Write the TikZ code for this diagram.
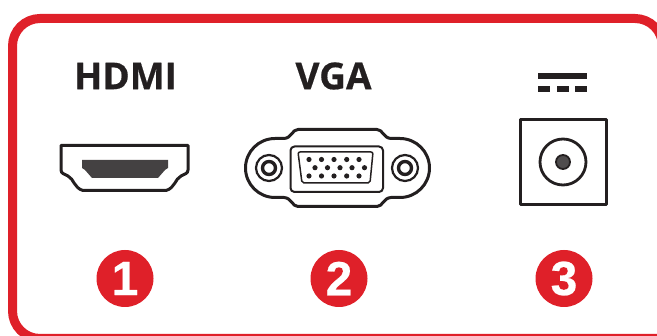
\documentclass[tikz,border=0pt]{standalone}
\usepackage{fontspec}
\setmainfont{Open Sans}[BoldFeatures={FakeBold=0.5}]
\newfontfamily\numfont{Liberation Sans}[BoldFeatures={FakeBold=0.5}]
\definecolor{framered}{HTML}{DF2029}
\definecolor{inkdark}{HTML}{231F20}
\tikzset{
  title/.style={text=inkdark,inner sep=0pt,font=\fontsize{37}{37}\selectfont\bfseries},
  badge/.style={circle,fill=framered,text=white,inner sep=0pt,minimum size=57pt,font=\fontsize{48}{48}\numfont\bfseries},
  outline/.style={draw=inkdark,line width=3pt,line join=round},
}

\begin{document}
\begin{tikzpicture}[x=1pt,y=-1pt]
\useasboundingbox (0,0) rectangle (657,336);
% frame
\draw[framered,line width=9pt] (12.5,311) --(12.5,46) arc[start angle=180,end angle=270,radius=27.5]--(635,18.5) arc[start angle=270,end angle=360,radius=27.5]--(662.5,338.5)--(40,338.5) arc[start angle=90,end angle=180,radius=27.5]--cycle;
% titles
\node[title] (hdmi) at (125.5,76) {HDMI};
\node[title] (vga) at (333.5,76) {VGA};
% hdmi port
\draw[outline] (61,145.5)--(188,145.5)--(188,170) .. controls (188,174) and (184,174) .. (181,176) .. controls (175,179) and (175,188) .. (166,190.5)--(83,190.5) .. controls (74,188) and (74,179) .. (68,176) .. controls (65,174) and (61,174) .. (61,170)--cycle;
\fill[inkdark!85] (82,160)--(168,160)--(168,168)--(165,170)--(158,178)--(92,178)--(85,170)--(82,168)--cycle;
% vga port
\draw[outline] (298,129.5)--(377,129.5) .. controls (383,129.5) and (383,138) .. (391,138.5)--(400,138.5) arc[start angle=-90,end angle=90,radius=29.5]--(391,197.5) .. controls (383,198) and (383,206.5) .. (377,206.5)--(298,206.5) .. controls (292,206.5) and (292,198) .. (284,197.5)--(275,197.5) arc[start angle=90,end angle=270,radius=29.5]--(284,138.5) .. controls (292,138) and (292,129.5) .. (298,129.5)--cycle;
\draw[inkdark,line width=2pt,rounded corners=4pt] (290.5,146.5) rectangle (383,192);
\draw[inkdark,line width=1.5pt,rounded corners=2pt] (298,152)--(373,152)--(370,183)--(302,183)--cycle;
\foreach \x in {309,321.5,334,346.7,359}{
  \fill[inkdark] (\x,159.5) circle (2.6);
  \fill[inkdark] (\x,176) circle (2.6);
}
\foreach \x in {315,327.5,340,352,364.5}
  \fill[inkdark] (\x,167.7) circle (2.6);
\foreach \x in {269,405}{
  \draw[inkdark,line width=2.2pt] (\x,168) circle (13);
  \draw[inkdark,line width=3.4pt] (\x,168) circle (6.5);
}
% dc jack
\fill[inkdark] (538,73) rectangle (587,79);
\foreach \x in {538,557,575}
  \fill[inkdark] (\x,86) rectangle ++(12,6);
\draw[outline] (520.5,119.5) rectangle (606,205);
\draw[inkdark,line width=2.8pt] (563,162) circle (23);
\draw[inkdark,fill=inkdark!80,line width=1.8pt] (563,162) circle (7);
% numbers
\node[badge] (one) at (125,278.5) {1};
\node[badge] (two) at (339,278.5) {2};
\node[badge] (three) at (564,278.5) {3};
\end{tikzpicture}
\end{document}
